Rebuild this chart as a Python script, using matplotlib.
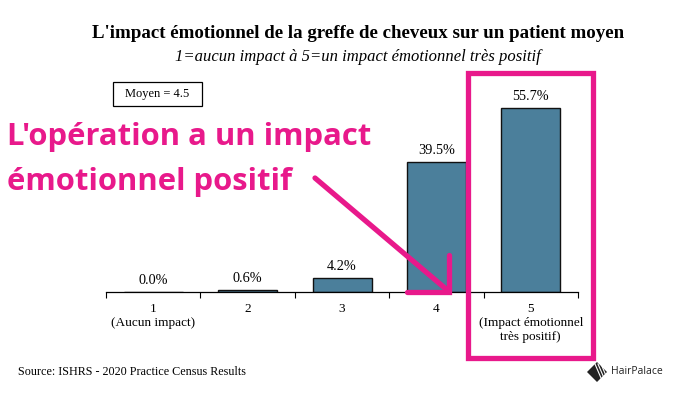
import matplotlib

matplotlib.use("Agg")
import matplotlib.pyplot as plt
from matplotlib.patches import Rectangle, Polygon

categories = [1, 2, 3, 4, 5]
tick_labels = [
    "1\n(Aucun impact)",
    "2",
    "3",
    "4",
    "5\n(Impact émotionnel\ntrès positif)",
]
values = [0.0, 0.6, 4.2, 39.5, 55.7]
pink_lines = ["L'opération a un impact", "émotionnel positif"]

SERIF = "Liberation Serif"
PINK = "#e8198b"
BAR = "#4b7f9b"
W, H = 673, 395

fig = plt.figure(figsize=(W / 100, H / 100), dpi=100)
fig.patch.set_facecolor("white")

# main bar axes, placed in pixels
ax = fig.add_axes([106 / W, (H - 292) / H, 472 / W, 198 / H])
ax.bar(categories, values, width=0.625, color=BAR, edgecolor="#111111", linewidth=1.0)
for x, v in zip(categories, values):
    ax.annotate(f"{v:.1f}%", (x, v), xytext=(0, 3.5), textcoords="offset points",
                ha="center", va="bottom", family=SERIF, fontsize=10.3)
ax.set_xlim(0.5, 5.5)
ax.set_ylim(0, 60)
ax.set_xticks(categories, tick_labels, family=SERIF, fontsize=9.5)
ax.set_xticks([c - 0.5 for c in categories] + [5.5], minor=True)
ax.tick_params(axis="x", which="major", length=0, pad=8)
ax.tick_params(axis="x", which="minor", length=4, width=0.8, direction="out")
ax.set_yticks([])
for s in ["top", "left", "right"]:
    ax.spines[s].set_visible(False)
ax.spines["bottom"].set_linewidth(0.9)

# overlay in pixel coordinates for titles and pink annotations
ov = fig.add_axes([0, 0, 1, 1], zorder=5)
ov.set_xlim(0, W)
ov.set_ylim(H, 0)
ov.axis("off")

ov.text(358, 33, "L'impact émotionnel de la greffe de cheveux sur un patient moyen",
        ha="center", va="center", family=SERIF, fontweight="bold", fontsize=13.6)
ov.text(358, 57, "1=aucun impact à 5=un impact émotionnel très positif",
        ha="center", va="center", family=SERIF, style="italic", fontsize=12)

ov.add_patch(Rectangle((113, 82), 89, 24, fill=False, edgecolor="black", linewidth=0.9))
ov.text(157.5, 94, "Moyen = 4.5", ha="center", va="center", family=SERIF, fontsize=9)

for i, line in enumerate(pink_lines):
    ov.text(7, 145 + 45 * i, line, ha="left", va="baseline", family="Open Sans",
            fontweight="bold", fontsize=22.3, color=PINK)

ov.add_patch(Rectangle((468, 73), 125, 285, fill=False, edgecolor=PINK, linewidth=3.8))
ov.plot([315, 446], [178, 289], color=PINK, linewidth=3.8, solid_capstyle="round")
ov.plot([407, 449, 449], [292, 292, 255], color=PINK, linewidth=3.8,
        solid_capstyle="round", solid_joinstyle="miter")

ov.text(18, 372, "Source: ISHRS - 2020 Practice Census Results", ha="left", va="center",
        family=SERIF, fontsize=8.7)

# small HairPalace logo
ov.add_patch(Polygon([[587, 372], [597, 362], [607, 372], [597, 382]], closed=True,
                     facecolor="#222222", edgecolor="none"))
for dx in (0, 3, 6):
    ov.plot([595 + dx, 601 + dx], [364, 378], color="white", linewidth=0.8)
ov.text(611, 372, "HairPalace", ha="left", va="center", family="Open Sans",
        fontsize=7.5, color="#222222")

fig.savefig("out.png", dpi=100, facecolor="white")
